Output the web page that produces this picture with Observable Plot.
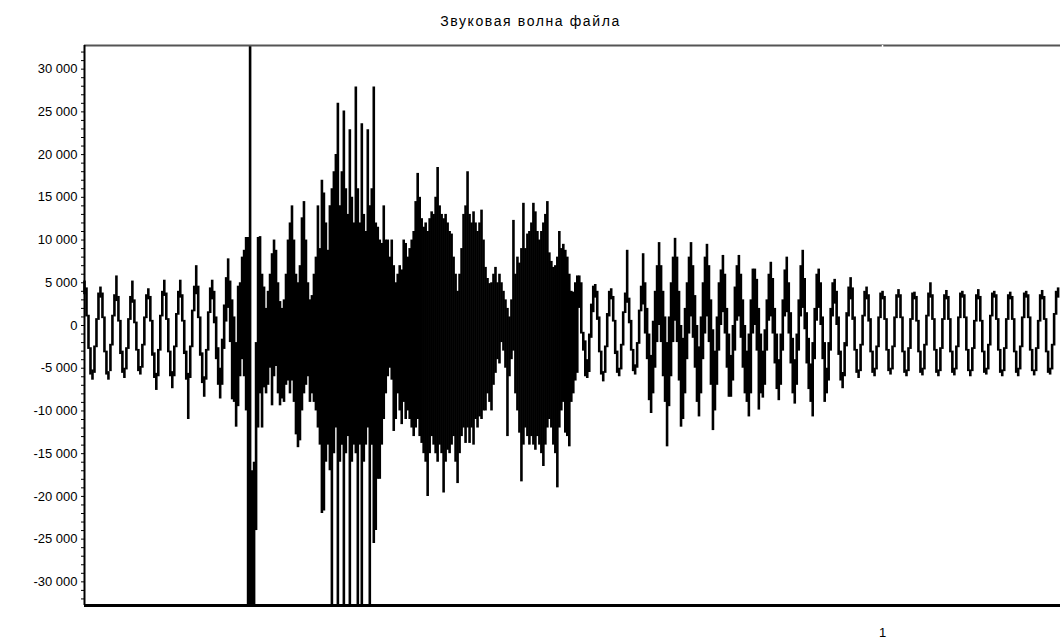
<!DOCTYPE html>
<html><head><meta charset="utf-8">
<script src="https://cdn.jsdelivr.net/npm/d3@7"></script>
<script src="https://cdn.jsdelivr.net/npm/@observablehq/plot@0.6"></script>
<style>body{margin:0;background:#fff;} #chart{width:1060px;height:639px;} .ttl text{letter-spacing:1.6px;}</style>
</head><body><div id="chart"></div>
<script>
// ---- data (amplitude in thousands; one [min, max] pair per 2.5 ms column) ----
const title = "Звуковая волна файла";
const sampleStep = 0.0025;            // seconds per column
const yTicks = [-30, -25, -20, -15, -10, -5, 0, 5, 10, 15, 20, 25, 30];
const xTicks = [1];

// quiet intro, 0 – 0.18 s
const segIntro = [
  [3.6,5.2],[1.0,4.4],[-2.8,1.2],[-5.8,-2.6],[-6.4,-5.2],[-5.6,-2.4],[-2.6,0.8],[0.6,3.8],
  [3.2,4.5],[0.8,3.8],[-3.2,1.0],[-5.8,-3.0],[-6.4,-5.4],[-5.4,-2.2],[-2.4,1.2],[1.0,3.6],
  [2.8,5.8],[0.4,3.4],[-3.4,0.6],[-5.6,-3.0],[-6.2,-5.0],[-5.2,-2.6],[-2.8,0.8],[0.6,3.4],
  [2.6,5.2],[0.2,3.0],[-3.0,0.4],[-5.4,-2.8],[-5.8,-4.8],[-5.0,-2.2],[-2.4,1.0],[0.8,3.6],
  [3.0,4.3],[0.4,3.4],[-3.6,0.6],[-6.2,-3.2],[-7.6,-5.6],[-6.0,-2.8],[-3.0,1.2],[1.0,4.0],
  [3.4,5.3],[0.6,3.8],[-3.2,0.8],[-6.0,-3.0],[-7.4,-5.4],[-6.0,-2.4],[-2.6,1.4],[1.2,4.0],
  [3.2,5.3],[0.4,3.6],[-3.4,0.6],[-6.4,-3.0],[-11.0,-5.6],[-6.2,-2.4],[-2.6,1.8],[1.6,4.6],
  [3.6,7.0],[0.8,4.6],[-3.6,1.0],[-6.8,-3.2],[-8.4,-6.0],[-6.4,-2.8],[-3.0,1.6],[1.4,4.4],
  [3.0,5.3],[0.2,4.0],[-4.0,1.0],[-7.0,-2.6],[-8.6,-5.0],[-7.0,-1.6],[-2.8,2.4],[0.4,5.6]
];
// onset and click, 0.18 – 0.30 s
const segOnset = [
  [2.0,7.8],[-2.0,5.2],[-8.7,3.0],[-9.0,1.0],[-11.9,-2.0],[-9.5,4.6],[-6.0,5.0],[-4.0,8.0],
  [-6.0,8.8],[-10.0,10.3],[-32.7,10.3],[-32.7,32.7],[-32.7,-17.0],[-32.7,-16.0],[-24.0,-2.0],[-12.0,10.3],
  [-8.0,10.4],[-12.0,6.0],[-7.3,4.5],[-8.0,2.0],[-7.0,4.0],[-5.0,6.0],[-9.4,8.4],[-6.0,10.0],
  [-4.8,8.8],[-8.0,5.0],[-9.4,2.8],[-8.6,2.0],[-9.0,3.0],[-7.0,6.0],[-6.5,10.0],[-8.0,12.0],
  [-6.5,14.0],[-9.0,10.0],[-12.8,6.0],[-14.3,5.0],[-13.5,7.0],[-10.0,12.6],[-8.0,14.5],[-7.0,10.0],
  [-6.0,5.0],[-9.0,3.0],[-8.0,3.5],[-9.0,6.0],[-10.0,8.0],[-12.0,14.0],[-14.0,9.0],[-22.0,17.0]
];
// loudest syllable, 0.30 – 0.42 s
const segLoud = [
  [-21.7,15.5],[-16.0,12.0],[-14.0,8.8],[-17.0,14.0],[-32.7,16.0],[-15.0,18.0],[-12.0,20.0],[-32.7,26.0],
  [-16.0,14.0],[-14.0,18.0],[-32.7,25.1],[-15.0,16.0],[-13.0,13.0],[-32.7,22.9],[-16.0,15.0],[-14.0,12.0],
  [-15.0,27.9],[-32.7,16.0],[-14.0,12.0],[-32.7,23.6],[-16.0,13.0],[-14.0,11.0],[-12.0,22.9],[-32.7,14.0],
  [-14.0,16.0],[-25.5,27.9],[-24.0,12.0],[-18.0,11.5],[-18.0,10.0],[-14.0,9.6],[-11.0,14.0],[-8.0,10.0],
  [-6.0,10.0],[-5.0,8.0],[-6.4,10.0],[-12.4,7.0],[-11.0,5.0],[-8.0,6.0],[-10.0,7.0],[-11.6,6.5],
  [-9.0,10.0],[-11.0,9.6],[-10.0,8.0],[-11.0,9.0],[-12.0,10.0],[-13.0,11.0],[-12.0,14.5],[-11.0,17.8]
];
// second and third syllables, 0.42 – 0.62 s
const segMid = [
  [-13.0,15.0],[-13.8,12.5],[-15.0,11.5],[-16.0,12.0],[-20.0,11.0],[-15.0,12.5],[-13.0,13.3],[-14.0,13.0],
  [-15.0,15.0],[-16.0,18.5],[-14.0,14.0],[-15.0,13.0],[-19.6,12.5],[-16.0,13.0],[-14.6,12.0],[-15.0,11.0],
  [-14.0,10.7],[-13.0,8.0],[-16.0,6.0],[-18.5,4.0],[-15.0,6.0],[-13.0,9.0],[-12.0,13.0],[-13.8,14.0],
  [-12.0,18.0],[-13.8,13.0],[-12.0,12.0],[-14.0,13.3],[-11.0,12.0],[-12.0,11.0],[-10.7,12.0],[-11.0,13.5],
  [-10.0,10.0],[-10.0,6.8],[-8.0,5.5],[-9.0,4.9],[-10.0,5.0],[-7.0,6.0],[-5.6,6.8],[-4.0,5.0],
  [-4.5,6.0],[-2.0,5.0],[-3.0,4.0],[-5.0,3.0],[-13.0,2.0],[-6.0,1.0],[-4.0,3.0],[-3.0,12.3],
  [-8.0,6.0],[-10.0,8.0],[-12.6,7.3],[-18.3,9.0],[-14.0,14.3],[-12.0,9.0],[-13.0,10.7],[-14.0,11.0],
  [-13.0,12.0],[-14.0,14.3],[-14.6,13.3],[-13.0,11.0],[-14.0,10.0],[-15.0,11.0],[-16.5,12.0],[-14.0,13.0],
  [-12.0,14.5],[-11.0,8.5],[-12.0,7.5],[-14.0,6.8],[-15.0,7.0],[-19.0,8.0],[-12.0,11.0],[-10.0,9.0],
  [-9.0,9.5],[-12.6,8.8],[-13.0,8.0],[-14.2,6.0],[-9.0,4.0],[-8.0,3.9],[-6.5,5.0],[-5.6,5.8]
];
// pause, 0.62 – 0.70 s
const segPause = [
  [2.0,5.8],[-1.0,5.0],[-3.0,-0.8],[-6.0,-1.8],[-6.2,-4.0],[-5.5,-1.0],[-1.5,2.5],[1.5,4.6],
  [3.2,4.8],[0.6,4.0],[-3.2,1.0],[-5.8,-3.0],[-6.6,-5.4],[-5.6,-2.4],[-2.6,1.4],[1.0,4.0],
  [3.0,4.3],[0.4,3.4],[-3.4,0.6],[-5.6,-3.0],[-6.0,-5.0],[-5.2,-2.2],[-2.4,1.6],[1.4,3.8],
  [2.6,8.8],[0.2,3.2],[-3.0,0.6],[-5.4,-2.8],[-5.8,-4.6],[-5.0,-2.0],[-2.2,1.8],[1.6,4.6]
];
// last syllable, 0.70 – 0.94 s
const segLast = [
  [2.4,8.4],[-1.0,5.0],[-4.0,2.0],[-8.8,-1.0],[-10.3,-3.5],[-8.0,0.5],[-5.0,4.0],[-2.0,7.0],
  [0.0,9.7],[-2.0,7.0],[-6.0,4.0],[-9.0,1.0],[-14.2,-2.0],[-9.5,1.0],[-6.0,5.0],[-2.0,8.0],
  [0.5,10.2],[-2.0,8.0],[-6.5,4.0],[-11.9,0.0],[-11.0,-1.5],[-8.0,2.0],[-4.0,5.0],[-1.0,8.0],
  [1.0,9.7],[-1.5,7.0],[-5.0,3.5],[-9.0,0.0],[-10.7,-2.5],[-8.0,1.0],[-4.0,5.0],[-1.0,8.0],
  [1.0,9.5],[-2.0,7.0],[-7.0,3.0],[-12.3,-0.5],[-10.0,-3.0],[-7.0,1.0],[-3.0,5.0],[0.0,6.5],
  [1.5,8.2],[-1.0,6.0],[-5.0,2.0],[-8.4,-1.0],[-8.4,-3.5],[-6.5,0.0],[-3.0,4.5],[0.5,7.0],
  [1.0,8.2],[-1.5,6.0],[-5.0,3.0],[-8.0,0.0],[-9.0,-3.0],[-10.7,-1.0],[-8.0,3.0],[-1.0,6.6],
  [0.0,6.6],[-3.0,5.4],[-9.9,2.0],[-8.0,-1.0],[-8.5,-3.0],[-7.0,-0.5],[-3.0,3.0],[0.5,6.0],
  [1.0,7.4],[-1.0,5.5],[-4.5,2.0],[-7.5,-1.0],[-8.8,-4.0],[-7.0,-1.0],[-3.0,3.0],[1.0,6.5],
  [1.5,8.0],[-1.0,5.0],[-4.5,1.5],[-8.0,-1.5],[-9.2,-4.0],[-7.0,-1.0],[-3.0,3.0],[1.0,7.0],
  [2.0,8.8],[-0.5,5.5],[-4.5,1.5],[-7.5,-1.5],[-9.0,-4.5],[-10.7,-2.0],[-4.0,2.0],[0.5,6.0],
  [2.0,6.6],[0.0,5.0],[-4.0,1.0],[-9.0,-2.0],[-8.0,-5.0],[-6.5,-2.0],[-3.0,2.0],[1.0,5.0]
];
// hum tail, 0.94 – 1.22 s
const segTail = [
  [2.5,5.4],[0.0,4.0],[-3.5,1.0],[-6.5,-3.0],[-7.4,-5.5],[-6.0,-2.0],[-2.5,1.5],[1.0,4.5],
  [3.0,5.6],[0.6,4.4],[-3.0,1.0],[-5.6,-2.8],[-6.2,-5.2],[-5.4,-2.2],[-2.4,1.2],[1.0,4.0],
  [3.0,4.5],[0.4,3.6],[-3.2,0.8],[-5.6,-3.0],[-6.0,-5.0],[-5.2,-2.4],[-2.6,1.0],[0.8,3.8],
  [3.0,4.0],[0.6,3.4],[-3.0,0.8],[-5.4,-2.8],[-5.8,-5.0],[-5.2,-2.4],[-2.6,1.0],[0.8,3.6],
  [3.2,4.2],[0.8,3.6],[-3.2,1.0],[-5.6,-3.0],[-6.0,-5.2],[-5.4,-2.6],[-2.8,0.8],[0.6,3.8],
  [3.0,3.9],[0.4,3.4],[-3.2,0.6],[-5.6,-3.0],[-5.9,-5.0],[-5.2,-2.2],[-2.4,1.2],[1.0,3.8],
  [3.2,5.0],[0.6,3.6],[-3.0,0.8],[-5.6,-2.8],[-6.0,-5.2],[-5.4,-2.6],[-2.8,0.8],[0.6,3.6],
  [3.0,4.1],[0.6,3.4],[-3.2,0.8],[-5.6,-3.0],[-5.9,-5.0],[-5.2,-2.4],[-2.6,1.0],[0.8,3.8],
  [3.2,4.0],[0.8,3.6],[-3.0,1.0],[-5.4,-2.8],[-6.0,-5.2],[-5.4,-2.6],[-2.8,0.6],[0.4,3.6],
  [3.0,4.2],[0.4,3.4],[-3.2,0.6],[-5.6,-3.0],[-5.8,-5.0],[-5.2,-2.2],[-2.4,1.2],[1.0,3.8],
  [3.2,4.0],[0.6,3.6],[-3.0,0.8],[-5.6,-2.8],[-6.0,-5.2],[-5.4,-2.6],[-2.8,0.8],[0.6,3.6],
  [3.0,3.9],[0.6,3.4],[-3.2,0.8],[-5.6,-3.0],[-6.0,-5.0],[-5.2,-2.4],[-2.6,1.0],[0.8,3.8],
  [3.2,4.0],[0.8,3.6],[-3.0,1.0],[-5.4,-2.8],[-5.9,-5.2],[-5.4,-2.6],[-2.8,0.6],[0.4,3.6],
  [3.0,4.1],[0.6,3.4],[-3.2,0.8],[-5.6,-3.0],[-5.8,-5.0],[-5.2,-2.2],[-2.4,1.4],[1.2,4.0],
  [3.2,4.4]
];

// ---- chart ----
const columns = [].concat(segIntro, segOnset, segLoud, segMid, segPause, segLast, segTail)
  .map(([lo, hi], i) => ({t: i * sampleStep, lo, hi}));
const yMin = -32.768, yMax = 32.767;
const minorTicks = d3.range(-32, 33, 1);
const fmt = d3.formatLocale({decimal: ",", thousands: " ", grouping: [3], currency: ["", ""], minus: "-"}).format(",d");

const chart = Plot.plot({
  width: 1060, height: 639,
  marginLeft: 84, marginRight: 0, marginTop: 45, marginBottom: 34,
  style: {fontFamily: "'Liberation Sans', Arial, sans-serif", fontSize: "13px", color: "black", background: "white"},
  x: {domain: [0, 1.223], axis: null, label: null},
  y: {domain: [yMin, yMax], axis: null, label: null},
  marks: [
    Plot.ruleX(columns, {x: "t", y1: "lo", y2: "hi", stroke: "black", strokeWidth: 2.6}),
    Plot.ruleY([yMax], {stroke: "#555", strokeWidth: 2}),
    Plot.ruleX(xTicks, {y1: yMax, y2: yMax - 0.3, stroke: "white", strokeWidth: 1.5}),
    Plot.ruleY([yMin], {stroke: "black", strokeWidth: 3}),
    Plot.ruleX([0], {stroke: "black", strokeWidth: 2}),
    Plot.axisY(minorTicks, {tickSize: 3, stroke: "black", text: null, label: null}),
    Plot.axisY(yTicks, {tickSize: 0, tickPadding: 7, tickFormat: d => fmt(d * 1000), fontSize: 13, label: null}),
    Plot.axisX(xTicks, {tickSize: 0, tickPadding: 22, tickFormat: d => String(d), fontSize: 13, label: null}),
    Plot.text([title], {frameAnchor: "top", dx: -42, dy: -29, fontSize: 14, className: "ttl"})
  ]
});
document.getElementById("chart").appendChild(chart);
</script>
</body></html>
